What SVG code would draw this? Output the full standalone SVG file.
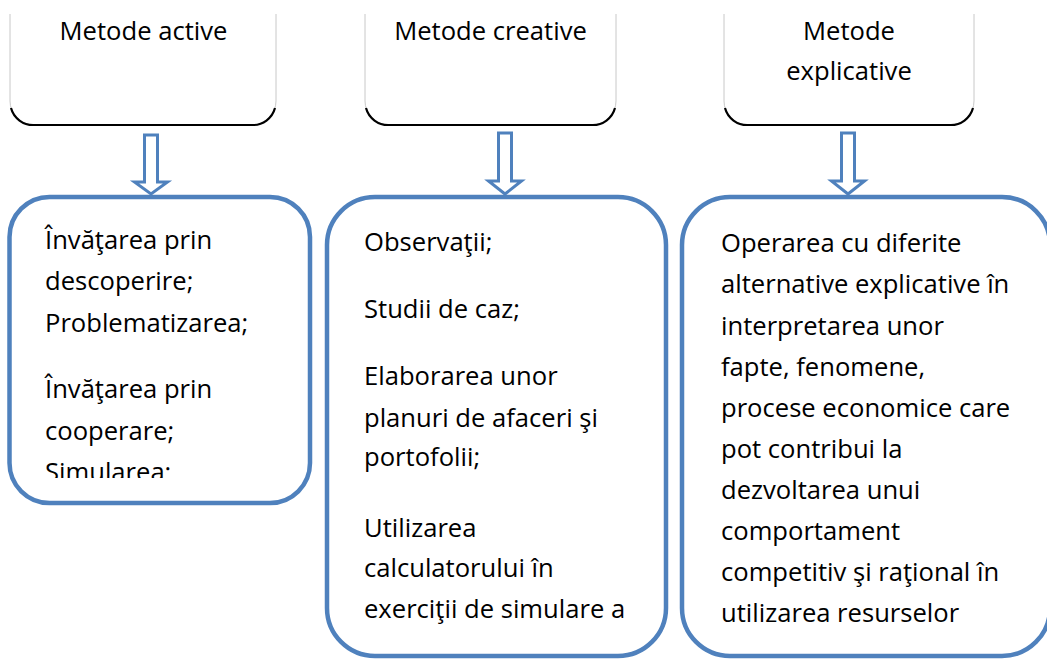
<svg xmlns="http://www.w3.org/2000/svg" width="1047" height="660" viewBox="0 0 1047 660">
<style>
.t{font-family:"Open Sans","Noto Sans",sans-serif;font-size:25.6px;fill:#000}
.c{text-anchor:middle}
.side{fill:#fff;stroke:#c8c8c8;stroke-width:1}
.base{fill:none;stroke:#000;stroke-width:2.2}
.arr{fill:#fff;stroke:#4f81bd;stroke-width:3;stroke-linejoin:miter}
.box{fill:#fff;stroke:#4f81bd;stroke-width:4.5}
</style>
<defs>
<clipPath id="clipL"><rect x="0" y="200" width="320" height="278"/></clipPath>
</defs>
<rect width="1047" height="660" fill="#fff"/>
<g id="top-active">
<path class="side" d="M10,14 V101 A24,24 0 0 0 34,125 H252 A24,24 0 0 0 276,101 V14"/>
<path class="base" d="M11,108 A23,23 0 0 0 34,125 H252 A23,23 0 0 0 275,108"/>
<text class="t c" x="143.5" y="40">Metode active</text>
</g>
<g id="top-creative">
<path class="side" d="M365,14 V101 A24,24 0 0 0 389,125 H592 A24,24 0 0 0 616,101 V14"/>
<path class="base" d="M366,108 A23,23 0 0 0 389,125 H592 A23,23 0 0 0 615,108"/>
<text class="t c" x="490.5" y="40">Metode creative</text>
</g>
<g id="top-explicative">
<path class="side" d="M724,14 V101 A24,24 0 0 0 748,125 H950 A24,24 0 0 0 974,101 V14"/>
<path class="base" d="M725,108 A23,23 0 0 0 748,125 H950 A23,23 0 0 0 973,108"/>
<text class="t c" x="849" y="40">Metode</text>
<text class="t c" x="849" y="80">explicative</text>
</g>
<g id="connectors">
<polygon class="arr" points="144.5,135 157.5,135 157.5,182 167.5,182 151,194 134.5,182 144.5,182"/>
<polygon class="arr" points="498.5,133 511.5,133 511.5,181 521.5,181 505,194 488.5,181 498.5,181"/>
<polygon class="arr" points="841.5,133 854.5,133 854.5,181 864.5,181 848,194 831.5,181 841.5,181"/>
</g>
<g id="box-active">
<rect class="box" x="9.5" y="197" width="300.5" height="306" rx="40" ry="40"/>
<g clip-path="url(#clipL)">
<text class="t" x="45" y="249">Învăţarea prin</text>
<text class="t" x="45" y="290">descoperire;</text>
<text class="t" x="45" y="332">Problematizarea;</text>
<text class="t" x="45" y="398">Învăţarea prin</text>
<text class="t" x="45" y="440">cooperare;</text>
<text class="t" x="45" y="481">Simularea;</text>
</g>
</g>
<g id="box-creative">
<rect class="box" x="327" y="197" width="339" height="459" rx="48" ry="48"/>
<text class="t" x="364" y="251">Observaţii;</text>
<text class="t" x="364" y="318">Studii de caz;</text>
<text class="t" x="364" y="385">Elaborarea unor</text>
<text class="t" x="364" y="427">planuri de afaceri şi</text>
<text class="t" x="364" y="466">portofolii;</text>
<text class="t" x="364" y="537">Utilizarea</text>
<text class="t" x="364" y="577">calculatorului în</text>
<text class="t" x="364" y="618">exerciţii de simulare a</text>
</g>
<g id="box-explicative">
<rect class="box" x="682" y="197" width="368" height="459" rx="48" ry="48"/>
<text class="t" x="721" y="252">Operarea cu diferite</text>
<text class="t" x="721" y="293">alternative explicative în</text>
<text class="t" x="721" y="335">interpretarea unor</text>
<text class="t" x="721" y="376">fapte, fenomene,</text>
<text class="t" x="721" y="417">procese economice care</text>
<text class="t" x="721" y="458">pot contribui la</text>
<text class="t" x="721" y="499">dezvoltarea unui</text>
<text class="t" x="721" y="540">comportament</text>
<text class="t" x="721" y="581">competitiv şi raţional în</text>
<text class="t" x="721" y="622">utilizarea resurselor</text>
</g>
</svg>
